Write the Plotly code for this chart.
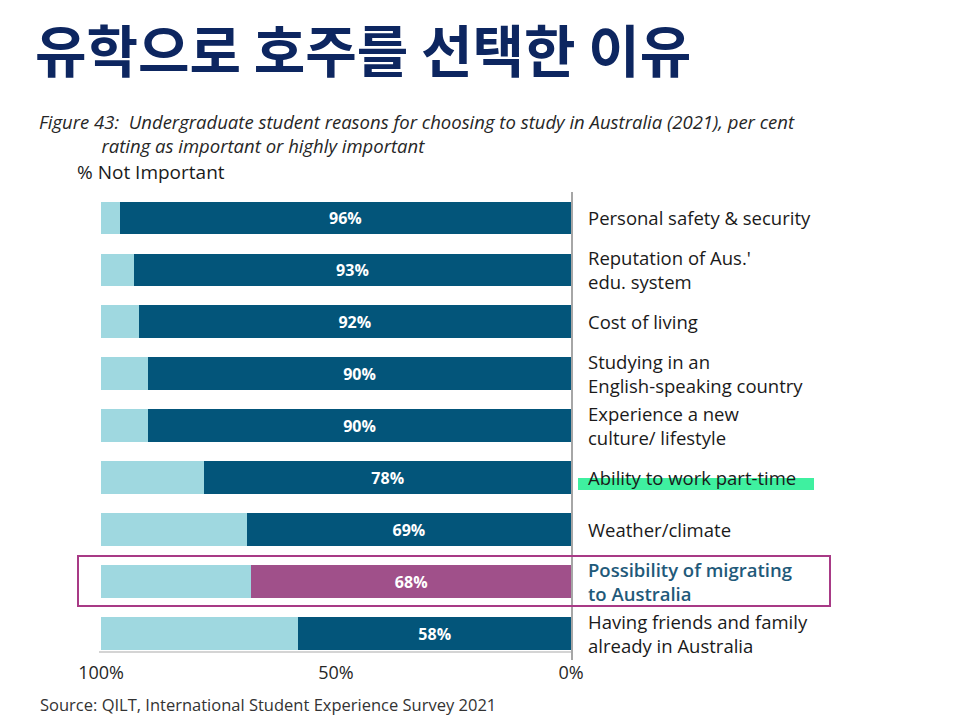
import plotly.graph_objects as go

categories = [
    "Personal safety & security",
    "Reputation of Aus.'\nedu. system",
    "Cost of living",
    "Studying in an\nEnglish-speaking country",
    "Experience a new\nculture/ lifestyle",
    "Ability to work part-time",
    "Weather/climate",
    "Possibility of migrating\nto Australia",
    "Having friends and family\nalready in Australia",
]
important = [96, 93, 92, 90, 90, 78, 69, 68, 58]
not_important = [4, 7, 8, 10, 10, 22, 31, 32, 42]
x_tick_vals = [100, 50, 0]
x_tick_text = ["100%", "50%", "0%"]
highlight_index = 7

W, H = 960, 720
OFF = 8  # page body margin
DARK = "#03557a"
LIGHT = "#9fd8e0"
MAGENTA = "#a0508a"
BOX = "#a83a86"

ykeys = [c.replace("\n", " ") for c in categories]
imp_colors = [MAGENTA if i == highlight_index else DARK for i in range(len(categories))]


def px_x(p):
    return (p - OFF) / W


def px_y(p):
    return 1 - (p - OFF) / H


fig = go.Figure()
fig.add_trace(go.Bar(
    y=ykeys, x=important, orientation="h",
    marker=dict(color=imp_colors, line=dict(width=0)),
    text=[f"<b>{v}%</b>" for v in important], textposition="inside",
    insidetextanchor="middle",
    textfont=dict(color="white", size=16, family="Open Sans"),
    width=0.63, hoverinfo="skip",
))
fig.add_trace(go.Bar(
    y=ykeys, x=not_important, orientation="h",
    marker=dict(color=LIGHT, line=dict(width=0)),
    width=0.63, hoverinfo="skip",
))

annotations = []
annotations.append(dict(
    text="<b>유학으로 호주를 선택한 이유</b>", xref="paper", yref="paper",
    x=px_x(33), y=px_y(47), xanchor="left", yanchor="middle", showarrow=False,
    font=dict(family="Noto Sans CJK KR", size=56, color="#0d2660"),
))
indent = "\u00a0" * 13
annotations.append(dict(
    text="<i>Figure 43:  Undergraduate student reasons for choosing to study in Australia (2021), per cent"
         "<br>" + indent + "rating as important or highly important</i>",
    xref="paper", yref="paper", x=px_x(37), y=px_y(133), xanchor="left", yanchor="middle",
    align="left", showarrow=False,
    font=dict(family="Open Sans", size=18.5, color="#262626"),
))
annotations.append(dict(
    text="% Not Important",
    xref="paper", yref="paper", x=px_x(75), y=px_y(172), xanchor="left", yanchor="middle",
    showarrow=False, font=dict(family="Open Sans", size=19, color="#1a1a1a"),
))
annotations.append(dict(
    text="Source: QILT, International Student Experience Survey 2021",
    xref="paper", yref="paper", x=px_x(38), y=px_y(704), xanchor="left", yanchor="middle",
    showarrow=False, font=dict(family="Open Sans", size=16.5, color="#333333"),
))

for i, (cat, key) in enumerate(zip(categories, ykeys)):
    hl = i == highlight_index
    color = "#1f5a7a" if hl else "#1a1a1a"
    annotations.append(dict(
        text=cat.replace("\n", "<br>"), xref="paper", yref="y", x=px_x(586), y=key,
        xanchor="left", yanchor="middle", align="left", showarrow=False,
        font=dict(family="Open Sans", size=18.5, color=color,
                  weight=600 if hl else 400),
    ))

shapes = [
    dict(type="rect", xref="paper", yref="paper", layer="below",
         x0=px_x(578), x1=px_x(814), y0=px_y(490), y1=px_y(478),
         fillcolor="#3ff0a0", line=dict(width=0)),
    dict(type="rect", xref="paper", yref="paper",
         x0=px_x(78), x1=px_x(830), y0=px_y(606), y1=px_y(556),
         fillcolor="rgba(0,0,0,0)", line=dict(color=BOX, width=2)),
    dict(type="line", xref="paper", yref="paper",
         x0=px_x(99), x1=px_x(571), y0=px_y(652), y1=px_y(652),
         line=dict(color="#d4d4d4", width=2)),
]

fig.update_layout(
    width=W, height=H, barmode="stack", showlegend=False,
    margin=dict(l=0, r=0, t=0, b=0, pad=0),
    paper_bgcolor="white", plot_bgcolor="white",
    xaxis=dict(domain=[px_x(101), px_x(571)], range=[100, 0], automargin=False,
               tickvals=x_tick_vals, ticktext=x_tick_text,
               tickfont=dict(family="Open Sans", size=18, color="#262626"),
               showgrid=False, zeroline=False, showline=False, ticks=""),
    yaxis=dict(domain=[px_y(660), px_y(192)], autorange="reversed", automargin=False,
               side="right", showticklabels=False, showgrid=False,
               zeroline=False, showline=True, linecolor="#a6a6a6", linewidth=2,
               ticks=""),
    annotations=annotations, shapes=shapes,
    uniformtext=dict(minsize=10, mode="show"),
)

fig.write_html("out.html")
